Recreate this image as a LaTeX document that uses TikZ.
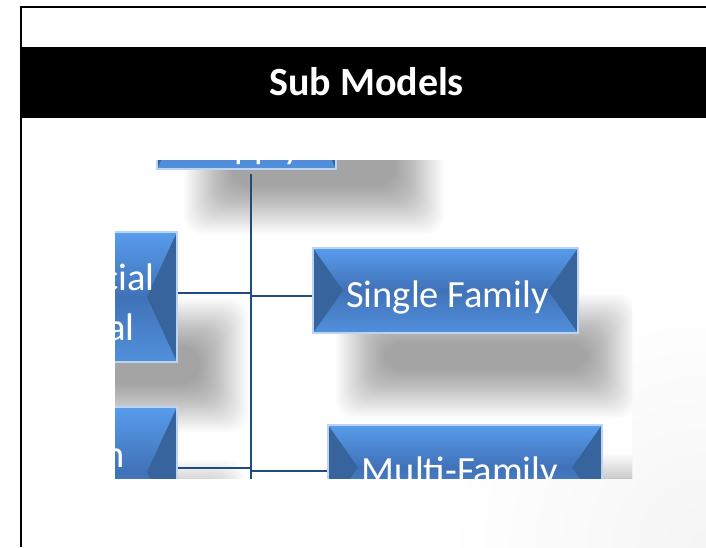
\documentclass[tikz,border=0pt]{standalone}
\usepackage{fontspec}
\setmainfont{Carlito}
\definecolor{bevtop}{RGB}{88,156,236}
\definecolor{bevmid}{RGB}{64,114,184}
\definecolor{bevbot}{RGB}{82,144,220}
\definecolor{bevdark}{RGB}{56,100,158}
\definecolor{bevedge}{RGB}{186,212,242}
\definecolor{connblue}{RGB}{31,75,130}
\newcommand\softshade[4]{%
  \foreach \k in {0,...,24}{%
    \fill[black,fill opacity=0.016,rounded corners=18pt] ({#1-2*\k},{#2-2*\k}) rectangle ({#3+2*\k},{#4+2*\k});}}
\tikzset{
  bev/.style={rectangle, draw=bevedge, line width=1.5pt, inner sep=0pt,
    top color=bevtop, bottom color=bevbot, middle color=bevmid,
    path picture={
      \fill[bevdark] (path picture bounding box.north west) -- ([xshift=30pt]path picture bounding box.west) -- (path picture bounding box.south west) -- cycle;
      \fill[bevdark] (path picture bounding box.north east) -- ([xshift=-30pt]path picture bounding box.east) -- (path picture bounding box.south east) -- cycle;}},
  boxtext/.style={text=white, font=\fontsize{38.5}{46}\selectfont, inner sep=0pt, anchor=base},
  boxtextr/.style={boxtext, anchor=base east},
  conn/.style={draw=connblue, line width=2.6pt},
  titletext/.style={text=white, font=\bfseries\fontsize{40}{48}\selectfont, inner sep=0pt, anchor=base}
}
\begin{document}
\begin{tikzpicture}[x=1pt,y=-1pt]
\useasboundingbox (0,0) rectangle (706,547);
\fill[white] (0,0) rectangle (706,547);
\begin{scope}
  \clip (21,7) rectangle (706,547);
  \shade[inner color=black!4, outer color=white] (706,547) circle (260);
\end{scope}
\fill[black] (21,47) rectangle (706,118);
\node[titletext] (ttl) at (366.5,95) {Sub Models};
\draw[black, line width=2pt] (21,547) -- (21,7) -- (706,7);

\begin{scope}
  \clip (115,160) rectangle (632,478);
  \fill[white] (115,160) rectangle (632,478);
  % shadows
  \softshade{232}{150}{396}{186}
  \softshade{60}{346}{200}{384}
  \softshade{384}{342}{588}{370}
  \softshade{60}{508}{196}{560}
  \softshade{434}{502}{640}{540}
  % boxes
  \node[bev, minimum width=179pt, minimum height=130pt] (topb) at (246.5,104) {};
  \node[bev, minimum width=157pt, minimum height=130pt] (lb1) at (98.5,297) {};
  \node[bev, minimum width=265pt, minimum height=85pt] (sf) at (445.5,290.5) {};
  \node[bev, minimum width=157pt, minimum height=130pt] (lb2) at (98.5,472) {};
  \node[bev, minimum width=274pt, minimum height=85pt] (mf) at (465,467.5) {};
  % texts
  \node[boxtext] (t0) at (249,158) {Supply};
  \node[boxtextr] (t1a) at (155,290) {cial};
  \node[boxtextr] (t1b) at (135,340) {al};
  \node[boxtextr] (t2) at (125,467) {n};
  \node[boxtext] (t3) at (447.5,307) {Single Family};
  \node[boxtext] (t4) at (460,483) {Multi-Family};
  % connectors
  \coordinate (tb) at (251,490);
  \coordinate (j1) at (250,293);
  \coordinate (j1r) at (252,296);
  \coordinate (j2) at (250,468);
  \coordinate (j2r) at (252,471);
  \draw[conn] ([yshift=-4pt]topb.south -| tb) -- (tb);
  \draw[conn] (lb1.east |- j1) -- (j1);
  \draw[conn] (j1r) -- (sf.west |- j1r);
  \draw[conn] (lb2.east |- j2) -- (j2);
  \draw[conn] (j2r) -- (mf.west |- j2r);
\end{scope}
\end{tikzpicture}
\end{document}
